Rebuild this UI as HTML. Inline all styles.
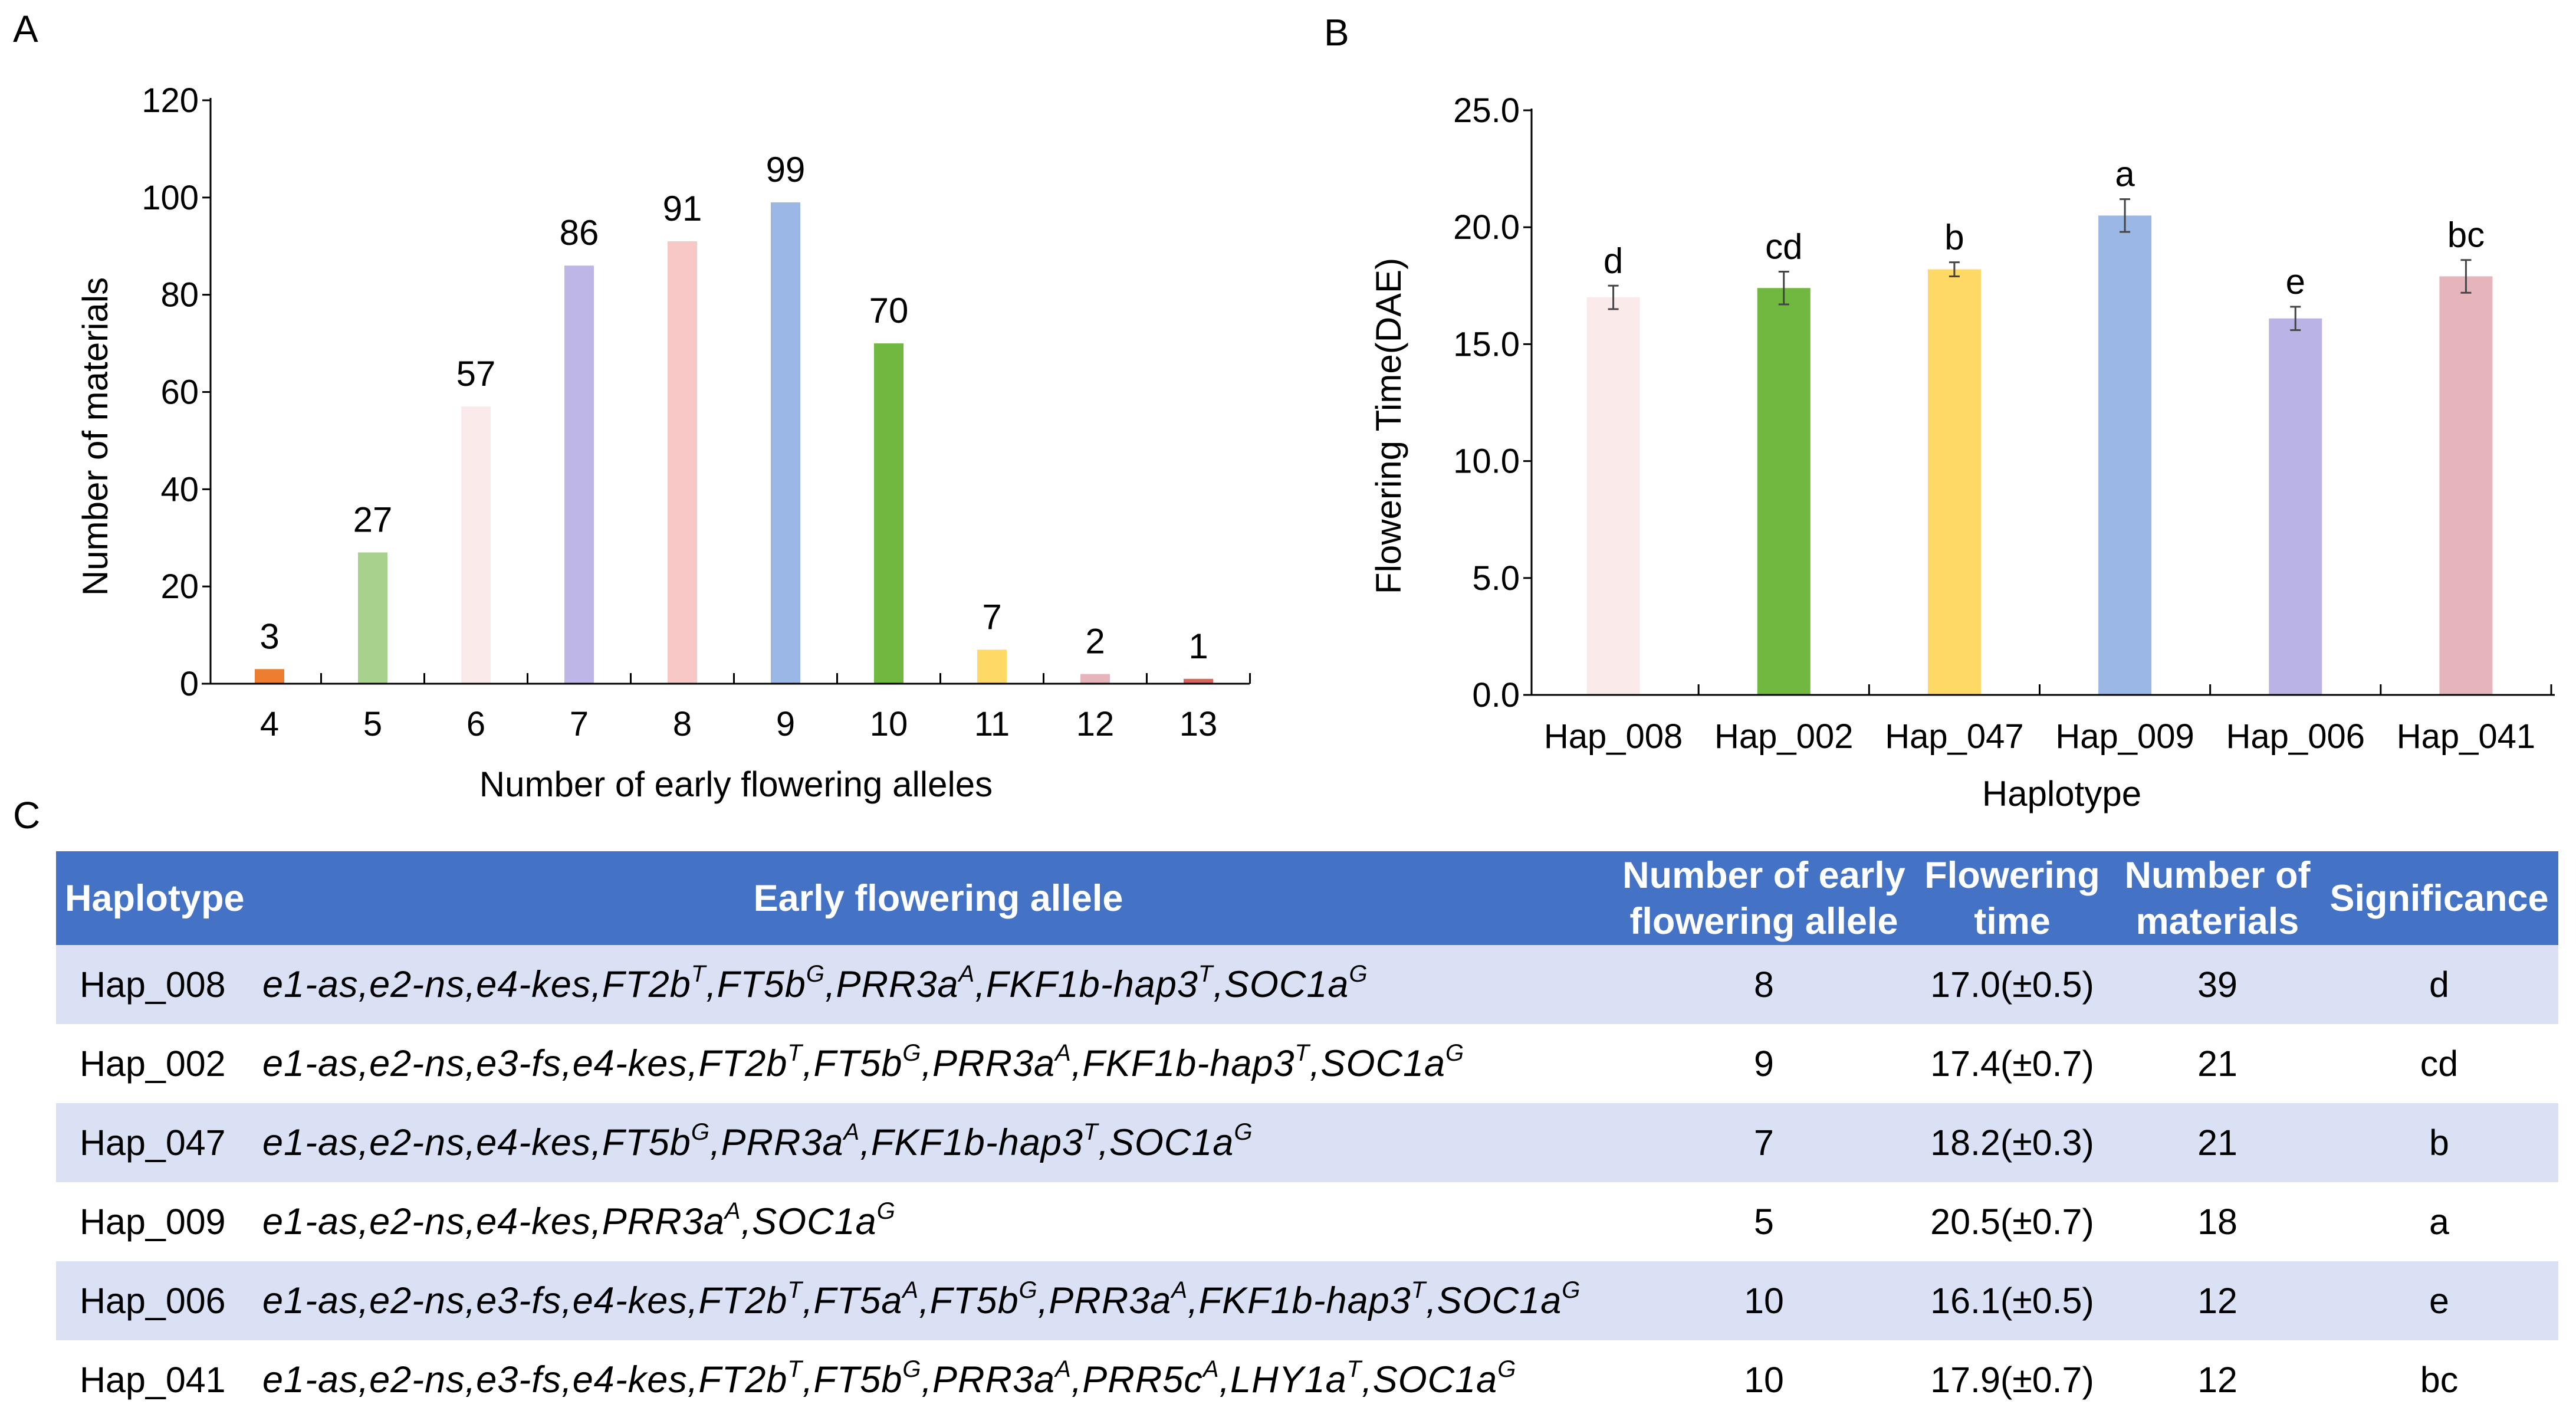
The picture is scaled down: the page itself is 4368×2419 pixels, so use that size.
<!DOCTYPE html>
<html><head><meta charset="utf-8"><style>
html,body{margin:0;padding:0;background:#fff;}
body{width:4368px;height:2419px;position:relative;overflow:hidden;font-family:"Liberation Sans",Arial,sans-serif;}
svg text{font-family:"Liberation Sans",Arial,sans-serif;}
.panel{position:absolute;font-size:64px;color:#000;}
#tbl{position:absolute;left:95px;top:1443px;width:4243px;}
.row{position:absolute;left:0;width:4243px;height:134px;font-size:61px;color:#000;}
.row div{position:absolute;top:0;height:134px;line-height:134px;white-space:nowrap;}
.hdr{background:#4472c4;color:#fff;font-weight:bold;height:159px;font-size:63px;}
.hdr div{line-height:72px;height:159px;display:flex;align-items:center;justify-content:center;text-align:center;}
.odd{background:#dae1f4;}
.al{font-style:italic;font-size:63px;letter-spacing:1px;}
sup{font-size:40px;vertical-align:0;position:relative;top:-26px;}
.c{text-align:center;}
</style></head><body>
<div class="panel" style="left:22px;top:12px;">A</div>
<div class="panel" style="left:2245px;top:18px;">B</div>
<div class="panel" style="left:22px;top:1345px;">C</div>
<svg id="chartA" style="position:absolute;left:0;top:0" width="2200" height="1400"></svg>
<svg id="chartB" style="position:absolute;left:2200px;top:0" width="2168" height="1400"></svg>

<div id="tbl">
 <div class="row hdr" style="top:0">
  <div style="left:15px;width:320px;justify-content:flex-start">Haplotype</div>
  <div style="left:335px;width:2322px">Early flowering allele</div>
  <div style="left:2649px;width:494px;line-height:78px">Number of early<br>flowering allele</div>
  <div style="left:3143px;width:348px;line-height:78px">Flowering<br>time</div>
  <div style="left:3491px;width:348px;line-height:78px">Number of<br>materials</div>
  <div style="left:3839px;width:404px">Significance</div>
 </div>
</div>

<script>
const NS='http://www.w3.org/2000/svg';
function mk(svg,tag,attrs,txt){const e=document.createElementNS(NS,tag);for(const k in attrs)e.setAttribute(k,attrs[k]);if(txt!==undefined)e.textContent=txt;svg.appendChild(e);return e;}

// ---------- Chart A data ----------
const catsA=['4','5','6','7','8','9','10','11','12','13'];
const valsA=[3,27,57,86,91,99,70,7,2,1];
const colorsA=['#ed7d31','#a9d18e','#fbeaea','#bdb6e6','#f8c8c6','#9ab7e6','#70b840','#ffd966','#e8b4bc','#d9625a'];
const ticksA=[0,20,40,60,80,100,120];

(function(){
 const s=document.getElementById('chartA');
 const x0=357,x1=2119,yb=1159,yt=170,max=120,step=175;
 const y=v=>yb-(v/max)*(yb-yt);
 const cx=i=>x0+100+step*i;
 let e;
 e=mk(s,'line',{x1:x0,y1:yt-4,x2:x0,y2:yb,stroke:'#000','stroke-width':3});
 
 e=mk(s,'line',{x1:x0-15,y1:yb,x2:x1,y2:yb,stroke:'#000','stroke-width':3});
 
 ticksA.forEach(t=>{
  e=mk(s,'line',{x1:x0-14,y1:y(t),x2:x0,y2:y(t),stroke:'#000','stroke-width':3});
  
  e=mk(s,'text',{x:x0-20,y:y(t)+20,'text-anchor':'end','font-size':58},String(t));
  
 });
 for(let i=0;i<catsA.length;i++){
  const tx=cx(i)+step/2;
  e=mk(s,'line',{x1:tx,y1:yb-18,x2:tx,y2:yb,stroke:'#000','stroke-width':3});
  
 }
 catsA.forEach((c,i)=>{
  e=mk(s,'rect',{x:cx(i)-25,y:y(valsA[i]),width:50,height:yb-y(valsA[i])-1.5,fill:colorsA[i]});
  
  e=mk(s,'text',{x:cx(i),y:y(valsA[i])-35,'text-anchor':'middle','font-size':60},String(valsA[i]));
  
  e=mk(s,'text',{x:cx(i),y:1247,'text-anchor':'middle','font-size':58},c);
  
 });
 e=mk(s,'text',{x:1248,y:1350,'text-anchor':'middle','font-size':60},'Number of early flowering alleles');
 
 e=mk(s,'text',{x:0,y:0,'text-anchor':'middle','font-size':60,transform:'translate(182,740) rotate(-90)'},'Number of materials');
 
})();

// ---------- Chart B data ----------
const catsB=['Hap_008','Hap_002','Hap_047','Hap_009','Hap_006','Hap_041'];
const valsB=[17.0,17.4,18.2,20.5,16.1,17.9];
const errB=[0.5,0.7,0.3,0.7,0.5,0.7];
const sigB=['d','cd','b','a','e','bc'];
const colorsB=['#fbeaea','#70b840','#ffd966','#9ab7e6','#bab3e6','#e6b4bb'];
const ticksB=[0,5,10,15,20,25];

(function(){
 const s=document.getElementById('chartB');
 const x0=397,x1=2132,yb=1178,yt=187,max=25;
 const step=(x1-x0)/catsB.length;
 const y=v=>yb-(v/max)*(yb-yt);
 const cx=i=>x0+step*(i+0.5)-6;
 let e;
 e=mk(s,'line',{x1:x0,y1:yt-3,x2:x0,y2:yb,stroke:'#000','stroke-width':3});
 
 e=mk(s,'line',{x1:x0-14,y1:yb,x2:x1,y2:yb,stroke:'#000','stroke-width':3});
 
 ticksB.forEach(t=>{
  e=mk(s,'line',{x1:x0-14,y1:y(t),x2:x0,y2:y(t),stroke:'#000','stroke-width':3});
  
  e=mk(s,'text',{x:x0-20,y:y(t)+20,'text-anchor':'end','font-size':58},t.toFixed(1));
  
 });
 for(let i=1;i<=catsB.length;i++){
  const tx=x0+step*i-6;
  e=mk(s,'line',{x1:tx,y1:yb-18,x2:tx,y2:yb,stroke:'#000','stroke-width':3});
  
 }
 catsB.forEach((c,i)=>{
  const yv=y(valsB[i]);
  e=mk(s,'rect',{x:cx(i)-45,y:yv,width:90,height:yb-yv-1.5,fill:colorsB[i]});
  
  const ya=y(valsB[i]+errB[i]),yl=y(valsB[i]-errB[i]);
  e=mk(s,'path',{d:`M${cx(i)} ${ya}V${yl}M${cx(i)-9} ${ya}H${cx(i)+9}M${cx(i)-9} ${yl}H${cx(i)+9}`,stroke:'#444','stroke-width':3,fill:'none'});
  
  e=mk(s,'text',{x:cx(i),y:ya-22,'text-anchor':'middle','font-size':60},sigB[i]);
  
  e=mk(s,'text',{x:cx(i),y:1268,'text-anchor':'middle','font-size':58},c);
  
 });
 e=mk(s,'text',{x:1296,y:1366,'text-anchor':'middle','font-size':60},'Haplotype');
 
 e=mk(s,'text',{x:0,y:0,'text-anchor':'middle','font-size':60,transform:'translate(175,722) rotate(-90)'},'Flowering Time(DAE)');
 
})();

// ---------- Table ----------
const hapT=['Hap_008','Hap_002','Hap_047','Hap_009','Hap_006','Hap_041'];
const alleleT=[
 'e1-as,e2-ns,e4-kes,FT2b<sup>T</sup>,FT5b<sup>G</sup>,PRR3a<sup>A</sup>,FKF1b-hap3<sup>T</sup>,SOC1a<sup>G</sup>',
 'e1-as,e2-ns,e3-fs,e4-kes,FT2b<sup>T</sup>,FT5b<sup>G</sup>,PRR3a<sup>A</sup>,FKF1b-hap3<sup>T</sup>,SOC1a<sup>G</sup>',
 'e1-as,e2-ns,e4-kes,FT5b<sup>G</sup>,PRR3a<sup>A</sup>,FKF1b-hap3<sup>T</sup>,SOC1a<sup>G</sup>',
 'e1-as,e2-ns,e4-kes,PRR3a<sup>A</sup>,SOC1a<sup>G</sup>',
 'e1-as,e2-ns,e3-fs,e4-kes,FT2b<sup>T</sup>,FT5a<sup>A</sup>,FT5b<sup>G</sup>,PRR3a<sup>A</sup>,FKF1b-hap3<sup>T</sup>,SOC1a<sup>G</sup>',
 'e1-as,e2-ns,e3-fs,e4-kes,FT2b<sup>T</sup>,FT5b<sup>G</sup>,PRR3a<sup>A</sup>,PRR5c<sup>A</sup>,LHY1a<sup>T</sup>,SOC1a<sup>G</sup>'];
const numT=[8,9,7,5,10,10];
const ftT=['17.0(±0.5)','17.4(±0.7)','18.2(±0.3)','20.5(±0.7)','16.1(±0.5)','17.9(±0.7)'];
const matT=[39,21,21,18,12,12];
const sigT=['d','cd','b','a','e','bc'];
(function(){
 const t=document.getElementById('tbl');
 hapT.forEach((h,i)=>{
  const r=document.createElement('div');
  r.className='row'+(i%2===0?' odd':'');
  r.style.top=(159+i*134)+'px';
  
  
  r.innerHTML=`<div style="left:40px">${h}</div>`+
   `<div class="al" style="left:350px">${alleleT[i]}</div>`+
   `<div class="c" style="left:2649px;width:494px">${numT[i]}</div>`+
   `<div class="c" style="left:3143px;width:348px">${ftT[i]}</div>`+
   `<div class="c" style="left:3491px;width:348px">${matT[i]}</div>`+
   `<div class="c" style="left:3839px;width:404px">${sigT[i]}</div>`;
  t.appendChild(r);
 });
})();
</script>
</body></html>
